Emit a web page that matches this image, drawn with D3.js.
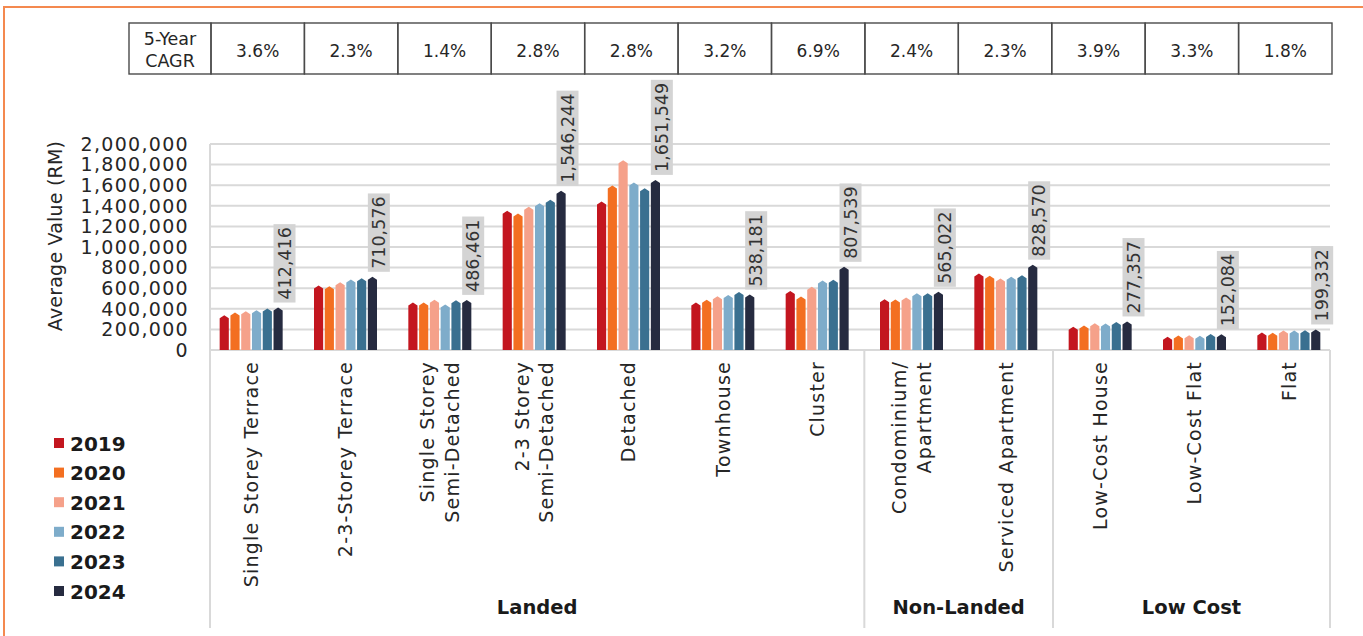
<!DOCTYPE html>
<html>
<head>
<meta charset="utf-8">
<script src="https://cdn.jsdelivr.net/npm/d3@7"></script>
<style>
  body { margin: 0; background: #fff; }
  svg { display: block; font-family: "DejaVu Sans", sans-serif; }
</style>
</head>
<body>
<script>
// categories, split into the lines they are drawn on
var categories = [
  ["Single Storey Terrace"],
  ["2-3-Storey Terrace"],
  ["Single Storey", "Semi-Detached"],
  ["2-3 Storey", "Semi-Detached"],
  ["Detached"],
  ["Townhouse"],
  ["Cluster"],
  ["Condominium/", "Apartment"],
  ["Serviced Apartment"],
  ["Low-Cost House"],
  ["Low-Cost Flat"],
  ["Flat"]
];
var groupNames = ["Landed", "Non-Landed", "Low Cost"];
var groupSizes = [7, 2, 3];
var cagr = ["3.6%", "2.3%", "1.4%", "2.8%", "2.8%", "3.2%", "6.9%", "2.4%", "2.3%", "3.9%", "3.3%", "1.8%"];

var years = ["2019", "2020", "2021", "2022", "2023", "2024"];
var colors = ["#c3161f", "#f36f21", "#f5a18a", "#7eacca", "#3a7090", "#262b40"];

var v2019 = [338000, 626000, 461000, 1351000, 1442000, 461000, 574000, 493000, 743000, 225000, 128000, 170000];
var v2020 = [364000, 620000, 461000, 1325000, 1597000, 487000, 520000, 491000, 720000, 238000, 141000, 167000];
var v2021 = [377000, 658000, 487000, 1390000, 1843000, 523000, 613000, 510000, 694000, 260000, 144000, 189000];
var v2022 = [387000, 685000, 442000, 1425000, 1626000, 535000, 675000, 552000, 710000, 257000, 138000, 189000];
var v2023 = [403000, 697000, 484000, 1458000, 1571000, 564000, 681000, 552000, 726000, 273000, 156000, 192000];
var v2024 = [412416, 710576, 486461, 1546244, 1651549, 538181, 807539, 565022, 828570, 277357, 152084, 199332];
var series = [v2019, v2020, v2021, v2022, v2023, v2024];

var W = 1363, H = 636;
var plotL = 210, plotR = 1330, axisBottom = 628;
var fmt = d3.format(",");

var svg = d3.select("body").append("svg")
    .attr("width", W)
    .attr("height", H);

// orange frame
svg.append("path")
    .attr("d", "M4," + H + "V7H" + W)
    .attr("fill", "none")
    .attr("stroke", "#f4894f")
    .attr("stroke-width", 2);

var catIdx = d3.range(categories.length);

var x = d3.scaleBand()
    .domain(catIdx)
    .range([204, 1336]);

var xSub = d3.scaleBand()
    .domain(years)
    .range([-31.5, 31.5])
    .paddingInner(0.15);

var y = d3.scaleLinear()
    .domain([0, 2000000])
    .range([350, 144]);

// CAGR table
var table = svg.append("g");
var tTop = 23, tBot = 74, tLeft = 129, tLabelR = 211, tRight = 1332;
var cellW = (tRight - tLabelR) / cagr.length;
table.append("rect")
    .attr("x", tLeft).attr("y", tTop)
    .attr("width", tLabelR - tLeft).attr("height", tBot - tTop)
    .attr("fill", "none").attr("stroke", "#4a4a4a").attr("stroke-width", 1.4);
table.append("text")
    .attr("x", (tLeft + tLabelR) / 2).attr("y", 45)
    .attr("text-anchor", "middle").attr("font-size", 17.5).attr("fill", "#262626")
    .text("5-Year");
table.append("text")
    .attr("x", (tLeft + tLabelR) / 2).attr("y", 67)
    .attr("text-anchor", "middle").attr("font-size", 17.5).attr("fill", "#262626")
    .text("CAGR");
cagr.forEach(function(c, i) {
  table.append("rect")
      .attr("x", tLabelR + i * cellW).attr("y", tTop)
      .attr("width", cellW).attr("height", tBot - tTop)
      .attr("fill", "none").attr("stroke", "#4a4a4a").attr("stroke-width", 1.4);
  table.append("text")
      .attr("x", tLabelR + (i + 0.5) * cellW).attr("y", 56.5)
      .attr("text-anchor", "middle").attr("font-size", 17).attr("fill", "#262626")
      .text(c);
});

// gridlines
var ticks = d3.range(0, 2000001, 200000);
svg.append("g").selectAll("line")
    .data(ticks)
    .enter().append("line")
    .attr("x1", plotL).attr("x2", plotR)
    .attr("y1", function(d) { return y(d); })
    .attr("y2", function(d) { return y(d); })
    .attr("stroke", "#d9d9d9")
    .attr("stroke-width", 2);

// y tick labels
svg.append("g").selectAll("text")
    .data(ticks)
    .enter().append("text")
    .attr("x", 189)
    .attr("y", function(d) { return y(d); })
    .attr("dy", "0.36em")
    .attr("text-anchor", "end")
    .attr("font-size", 19)
    .attr("letter-spacing", "1.3px")
    .attr("fill", "#262626")
    .text(function(d) { return fmt(d); });

// y title
svg.append("text")
    .attr("transform", "translate(55,236) rotate(-90)")
    .attr("dy", "0.36em")
    .attr("text-anchor", "middle")
    .attr("font-size", 19)
    .attr("letter-spacing", "0.2px")
    .attr("fill", "#262626")
    .text("Average Value (RM)");

// frame lines: left axis, group separators, right end
var frame = svg.append("g").attr("stroke", "#d9d9d9").attr("stroke-width", 2);
frame.append("line").attr("x1", plotL).attr("x2", plotL).attr("y1", y(2000000)).attr("y2", axisBottom);
var start = 0;
groupSizes.forEach(function(n, gi) {
  if (gi > 0) {
    var sx = x(start);
    frame.append("line").attr("x1", sx).attr("x2", sx).attr("y1", y(0)).attr("y2", axisBottom);
  }
  start += n;
});
frame.append("line").attr("x1", plotR).attr("x2", plotR).attr("y1", y(0)).attr("y2", axisBottom);

// bars with a small peaked top
function barPath(bx, bw, top, bottom) {
  var r = Math.min(3, bottom - top);
  return "M" + bx + "," + bottom +
    "V" + (top + r) +
    "L" + (bx + bw / 2) + "," + top +
    "L" + (bx + bw) + "," + (top + r) +
    "V" + bottom + "Z";
}

var barsG = svg.append("g");
catIdx.forEach(function(ci) {
  var cx = x(ci) + x.bandwidth() / 2;
  years.forEach(function(yr, yi) {
    barsG.append("path")
        .attr("d", barPath(cx + xSub(yr), xSub.bandwidth(), y(series[yi][ci]), y(0)))
        .attr("fill", colors[yi]);
  });
});

// data labels on the 2024 bars
var labelG = svg.append("g");
catIdx.forEach(function(ci) {
  var bx = x(ci) + x.bandwidth() / 2 + xSub("2024");
  var top = y(v2024[ci]);
  var t = labelG.append("text")
      .attr("transform", "translate(" + (bx + 11) + "," + (top - 8) + ") rotate(-90)")
      .attr("dy", "0.36em")
      .attr("font-size", 17.5)
      .attr("fill", "#333")
      .text(fmt(v2024[ci]));
  var len = t.node().getComputedTextLength();
  labelG.insert("rect", "text")
      .attr("x", bx)
      .attr("y", top - 5 - len - 6)
      .attr("width", 22)
      .attr("height", len + 6)
      .attr("fill", "#d4d4d4");
});
labelG.selectAll("text").raise();

// category labels
catIdx.forEach(function(ci) {
  var cx = x(ci) + x.bandwidth() / 2;
  var lines = categories[ci];
  var g = svg.append("g")
      .attr("transform", "translate(" + cx + ",361) rotate(-90)");
  lines.forEach(function(l, li) {
    g.append("text")
        .attr("x", 0)
        .attr("y", (li - (lines.length - 1) / 2) * 25)
        .attr("dy", "0.36em")
        .attr("text-anchor", "end")
        .attr("font-size", 19)
        .attr("letter-spacing", "1.2px")
        .attr("fill", "#262626")
        .text(l);
  });
});

// group labels
start = 0;
groupSizes.forEach(function(n, gi) {
  var x0 = gi === 0 ? plotL : x(start);
  var x1 = gi === groupSizes.length - 1 ? plotR : x(start + n);
  svg.append("text")
      .attr("x", (x0 + x1) / 2)
      .attr("y", 614)
      .attr("text-anchor", "middle")
      .attr("font-size", 19.5)
      .attr("font-weight", "bold")
      .attr("fill", "#1a1a1a")
      .text(groupNames[gi]);
  start += n;
});

// legend
var legend = svg.append("g").attr("transform", "translate(54,443)");
years.forEach(function(yr, i) {
  var row = legend.append("g").attr("transform", "translate(0," + (i * 29.6) + ")");
  row.append("rect")
      .attr("y", -5).attr("width", 10).attr("height", 10)
      .attr("fill", colors[i]);
  row.append("text")
      .attr("x", 16)
      .attr("y", 7.5)
      .attr("font-size", 20)
      .attr("font-weight", "bold")
      .attr("fill", "#1a1a1a")
      .text(yr);
});
</script>
</body>
</html>
